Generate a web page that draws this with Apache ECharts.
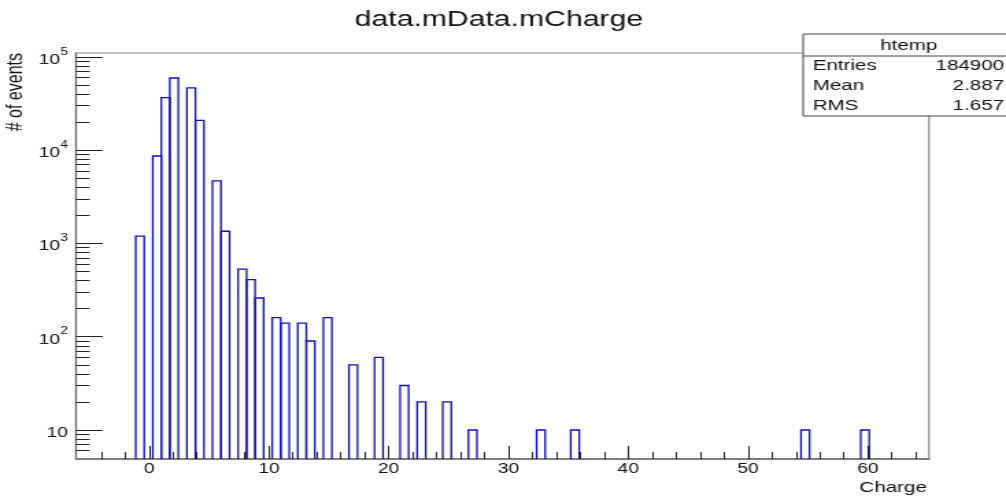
<!DOCTYPE html>
<html>
<head>
<meta charset="utf-8">
<title>data.mData.mCharge</title>
<script src="https://cdn.jsdelivr.net/npm/echarts@6/dist/echarts.min.js"></script>
<style>
  html, body { margin: 0; padding: 0; background: #fff; overflow: hidden; }
  /* The canvas is drawn narrow and widened to the page width,
     so text and vertical strokes come out stretched horizontally. */
  #chart { width: 734px; height: 498px; transform: scaleX(1.37057); transform-origin: 0 0; }
</style>
</head>
<body>
<div id="chart"></div>
<script>
// Histogram binning of "Charge" (100 bins)
const X_MIN = -6.1;
const X_MAX = 65.1;
const BIN_WIDTH = 0.712;

// Non-empty bins: index and number of events
const binIndex = [7, 9, 10, 11, 13, 14, 16, 17, 19, 20, 21, 23, 24, 26, 27, 29, 32, 35, 38, 40, 43, 46, 54, 58, 85, 92];
const binCount = [1200, 8650, 36500, 59300, 46400, 20800, 4670, 1350, 530, 410, 260, 160, 140, 140, 90, 160, 50, 60, 30, 20, 20, 10, 10, 10, 10, 10];

// Vertical (log) range
const Y_MIN = 4.89;
const Y_MAX = 109900;

// Axis ticks
const xMajorTicks = [0, 10, 20, 30, 40, 50, 60];
const xMinorTicks = [-4, -2, 2, 4, 6, 8, 12, 14, 16, 18, 22, 24, 26, 28, 32, 34, 36, 38, 42, 44, 46, 48, 52, 54, 56, 58, 62, 64];
const yMajorTicks = [10, 100, 1000, 10000, 100000];
const yMinorMantissa = [2, 3, 4, 5, 6, 7, 8, 9];

// Statistics box
const statsTitle = 'htemp';
const statsNames = ['Entries', 'Mean', 'RMS'];
const statsValues = ['184900', '2.887', '1.657'];

const FONT = '"Liberation Sans", Arial, Helvetica, sans-serif';

const yMinorTicks = [];
[1, 10, 100, 1000, 10000].forEach(function (d) {
  yMinorMantissa.forEach(function (m) {
    const v = m * d;
    if (v > Y_MIN * 1.05 && v < Y_MAX) yMinorTicks.push(v);
  });
});

const histData = binIndex.map(function (k, i) {
  const lo = X_MIN + k * BIN_WIDTH;
  return [lo, lo + BIN_WIDTH, binCount[i]];
});

const chart = echarts.init(document.getElementById('chart'));

const statsRows = [];
statsNames.forEach(function (name, i) {
  const y = 66 + i * 20;
  statsRows.push({ type: 'text', x: 593, y: y, style: { text: name, fontSize: 15, fontFamily: FONT, fill: '#111', verticalAlign: 'middle' } });
  statsRows.push({ type: 'text', x: 732.6, y: y, style: { text: statsValues[i], fontSize: 15, fontFamily: FONT, fill: '#111', align: 'right', verticalAlign: 'middle' } });
});

chart.setOption({
  animation: false,
  backgroundColor: '#fff',
  grid: {
    left: 55.45, right: 56.2, top: 53, bottom: 39,
    show: true, borderColor: '#8a8a8a', borderWidth: 1.2, backgroundColor: 'transparent'
  },
  xAxis: [
    {
      type: 'value', min: X_MIN, max: X_MAX, position: 'bottom',
      axisLine: { show: true, onZero: false, lineStyle: { color: '#666', width: 1.6 } },
      axisTick: { show: true, inside: true, length: 13, customValues: xMajorTicks, lineStyle: { color: '#222', width: 1 } },
      axisLabel: { show: true, customValues: xMajorTicks, fontSize: 14, fontFamily: FONT, color: '#111', margin: 3 },
      splitLine: { show: false }
    },
    {
      type: 'value', min: X_MIN, max: X_MAX, position: 'bottom',
      axisLine: { show: false, onZero: false },
      axisTick: { show: true, inside: true, length: 7, customValues: xMinorTicks, lineStyle: { color: '#222', width: 1 } },
      axisLabel: { show: false },
      splitLine: { show: false }
    }
  ],
  yAxis: [
    {
      type: 'log', logBase: 10, min: Y_MIN, max: Y_MAX, position: 'left',
      axisLine: { show: true, onZero: false, lineStyle: { color: '#666', width: 1.2 } },
      axisTick: { show: true, inside: true, length: 19.5, customValues: yMajorTicks, lineStyle: { color: '#222', width: 1 } },
      axisLabel: {
        show: true, customValues: yMajorTicks, margin: 6, color: '#111', fontFamily: FONT,
        formatter: function (v) {
          const e = Math.round(Math.log10(v));
          return e === 1 ? '{b|10}' : '{b|10}{s|' + e + '}';
        },
        rich: {
          b: { fontSize: 14, fontFamily: FONT, color: '#111', lineHeight: 20, verticalAlign: 'bottom' },
          s: { fontSize: 10, fontFamily: FONT, color: '#111', lineHeight: 20, verticalAlign: 'top' }
        }
      },
      splitLine: { show: false }
    },
    {
      type: 'log', logBase: 10, min: Y_MIN, max: Y_MAX, position: 'left',
      axisLine: { show: false, onZero: false },
      axisTick: { show: true, inside: true, length: 10, customValues: yMinorTicks, lineStyle: { color: '#222', width: 1 } },
      axisLabel: { show: false },
      splitLine: { show: false }
    }
  ],
  series: [
    {
      type: 'custom',
      xAxisIndex: 0,
      yAxisIndex: 0,
      data: histData,
      encode: { x: [0, 1], y: 2 },
      clip: true,
      renderItem: function (params, api) {
        const lo = api.value(0), hi = api.value(1), c = api.value(2);
        const a = api.coord([lo, c]);
        const b = api.coord([hi, c]);
        const yb = params.coordSys.y + params.coordSys.height;
        return {
          type: 'polyline',
          shape: { points: [[a[0], yb], [a[0], a[1]], [b[0], b[1]], [b[0], yb]] },
          style: { stroke: '#1010a8', lineWidth: 1.3, fill: null }
        };
      }
    }
  ],
  graphic: [
    { type: 'text', x: 364, y: 20, style: { text: 'data.mData.mCharge', fontSize: 22, fontFamily: FONT, fill: '#111', align: 'center', verticalAlign: 'middle' } },
    { type: 'text', x: 676.3, y: 487.5, style: { text: 'Charge', fontSize: 15, fontFamily: FONT, fill: '#111', align: 'right', verticalAlign: 'middle' } },
    { type: 'text', x: 11.5, y: 53, rotation: Math.PI / 2, style: { text: '# of events', fontSize: 16, fontFamily: FONT, fill: '#111', align: 'right', verticalAlign: 'middle' } },
    // statistics box
    { type: 'rect', shape: { x: 586, y: 34, width: 160, height: 82 }, style: { fill: '#fff', stroke: '#444', lineWidth: 1 } },
    { type: 'line', shape: { x1: 586, y1: 56, x2: 740, y2: 56 }, style: { stroke: '#444', lineWidth: 1 } },
    { type: 'text', x: 663, y: 45.5, style: { text: statsTitle, fontSize: 15, fontFamily: FONT, fill: '#111', align: 'center', verticalAlign: 'middle' } }
  ].concat(statsRows)
});
</script>
</body>
</html>
